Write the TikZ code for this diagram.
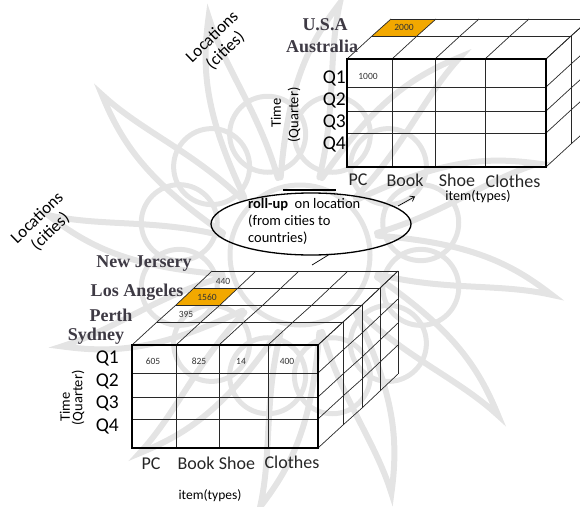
\documentclass[tikz,border=0pt]{standalone}
\usepackage{fontspec}
\setmainfont{Carlito}
\newfontfamily\cityfont{Liberation Serif}
\usetikzlibrary{shapes.geometric,arrows.meta,calc}
\definecolor{orangecell}{RGB}{242,168,0}
\definecolor{citycol}{RGB}{62,58,68}
\definecolor{gridcol}{RGB}{40,40,40}
\definecolor{wmark}{RGB}{228,228,228}
\begin{document}
\begin{tikzpicture}[x=1pt,y=-1pt,
  thinline/.style={draw=gridcol,line width=0.7pt},
  frontgrid/.style={draw=gridcol,line width=0.8pt},
  frontborder/.style={draw=black,line width=1.8pt},
  city/.style={font=\cityfont\bfseries\fontsize{18}{19}\selectfont,text=citycol,inner sep=0pt},
  qlab/.style={font=\fontsize{19.5}{20}\selectfont,anchor=east,inner sep=0pt},
  collab/.style={font=\fontsize{18}{19}\selectfont,text=black!85,inner sep=0pt},
  axislab/.style={font=\fontsize{14.5}{15}\selectfont,inner sep=0pt},
  numlab/.style={font=\fontsize{9.5}{10}\selectfont,text=black!80,inner sep=0pt},
  loclab/.style={font=\fontsize{17}{19}\selectfont,align=center,rotate=44,inner sep=0pt},
  wm/.style={draw=wmark,line width=6pt,line cap=round}]
\useasboundingbox (0,0) rectangle (580,506);
\begin{scope}
\clip (0,0) rectangle (580,506);
% ================= WATERMARK =================
\coordinate (wc) at (300,255);
\foreach \a in {0,30,...,330}{
  \draw[wm] ($(wc)+(\a-14:80)$) .. controls ($(wc)+(\a-4:170)$) and ($(wc)+(\a+2:210)$) .. ($(wc)+(\a+9:255)$)
            .. controls ($(wc)+(\a+8:200)$) and ($(wc)+(\a+14:150)$) .. ($(wc)+(\a+14:80)$);
  \draw[wm,line width=5pt] ($(wc)+(\a+15:125)$) circle[radius=38];
}
\draw[wm,line width=5pt] (wc) circle[radius=70];
% ================= TOP CUBE =================
\fill[orangecell] (372,36) -- (391,19) -- (436,19) -- (417,36) -- cycle;
\foreach \dx/\dy in {25/-23,44/-40}
  \draw[thinline] (347+\dx,59+\dy) -- (546+\dx,59+\dy);
\foreach \x in {347,392,435,485,546}
  \draw[thinline] (\x,59) -- (\x+25,36) -- (\x+44,19);
\foreach \dx/\dy in {25/-23,44/-40}
  \draw[thinline] (546+\dx,59+\dy) -- (546+\dx,167+\dy);
\foreach \y in {59,87,111,133,167}
  \draw[thinline] (546,\y) -- (571,\y-23) -- (590,\y-40);
\foreach \x in {392,435,485}
  \draw[frontgrid] (\x,59) -- (\x,167);
\foreach \y in {87,111,133}
  \draw[frontgrid] (347,\y) -- (546,\y);
\draw[frontborder] (347,59) rectangle (546,167);
% ================= BOTTOM CUBE =================
\fill[orangecell] (176,305) -- (194,288) -- (238,288) -- (220,305) -- cycle;
\foreach \dx/\dy in {25/-23,44/-40,62/-57,80/-74}
  \draw[thinline] (132+\dx,345+\dy) -- (318+\dx,345+\dy);
\foreach \x in {132,176,219,268,318}
  \draw[thinline] (\x,345) -- (\x+25,322) -- (\x+44,305) -- (\x+62,288) -- (\x+80,271);
\foreach \dx/\dy in {25/-23,44/-40,62/-57,80/-74}
  \draw[thinline] (318+\dx,345+\dy) -- (318+\dx,448+\dy);
\foreach \y in {345,373,397,419,448}
  \draw[thinline] (318,\y) -- (343,\y-23) -- (362,\y-40) -- (380,\y-57) -- (398,\y-74);
\foreach \x in {176,219,268}
  \draw[frontgrid] (\x,345) -- (\x,448);
\foreach \y in {373,397,419}
  \draw[frontgrid] (132,\y) -- (318,\y);
\draw[frontborder] (132,345) rectangle (318,448);
\end{scope}
% ---------- top cube labels ----------
\node[city] (usa) at (325,25) {U.S.A};
\node[city] (aus) at (322,46) {Australia};
\node[loclab] (loc1) at (219,44) {Locations\\(cities)};
\node[axislab,rotate=90] (time1) at (276,113) {Time};
\node[axislab,rotate=90] (quar1) at (294,115) {(Quarter)};
\node[qlab] (tq1) at (346,78) {Q1};
\node[qlab] (tq2) at (346,100) {Q2};
\node[qlab] (tq3) at (346,122) {Q3};
\node[qlab] (tq4) at (346,144) {Q4};
\node[collab] (tpc) at (358,180) {PC};
\node[collab] (tbook) at (405,180) {Book};
\node[collab] (tshoe) at (457,180) {Shoe};
\node[collab] (tclo) at (513,181) {Clothes};
\node[axislab,font=\fontsize{14}{15}\selectfont] (titem) at (478,197) {item(types)};
\node[numlab] (n1000) at (368,76) {1000};
\node[numlab] (n2000) at (404,27.5) {2000};
% ---------- bottom cube labels ----------
\node[loclab] (loc2) at (44,225) {Locations\\(cities)};
\node[city] (nj) at (144,264) {New Jersery};
\node[city] (la) at (137,292) {Los Angeles};
\node[city] (perth) at (111,315) {Perth};
\node[city] (syd) at (96,336) {Sydney};
\node[axislab,rotate=90] (time2) at (65,407) {Time};
\node[axislab,rotate=90] (quar2) at (78,398) {(Quarter)};
\node[qlab] (bq1) at (119,358) {Q1};
\node[qlab] (bq2) at (119,381) {Q2};
\node[qlab] (bq3) at (119,403) {Q3};
\node[qlab] (bq4) at (119,426) {Q4};
\node[collab] (bpc) at (151,464) {PC};
\node[collab] (bbook) at (196,463) {Book};
\node[collab] (bshoe) at (237,463) {Shoe};
\node[collab] (bclo) at (292,462) {Clothes};
\node[axislab,font=\fontsize{13.5}{14}\selectfont] (bitem) at (210,496) {item(types)};
\node[numlab] (n605) at (153,361) {605};
\node[numlab] (n825) at (199,361) {825};
\node[numlab] (n14) at (241,361) {14};
\node[numlab] (n400) at (287,361) {400};
\node[numlab] (n440) at (223,281) {440};
\node[numlab] (n1560) at (207,297) {1560};
\node[numlab] (n395) at (186,314) {395};
% ---------- roll-up ellipse and arrow ----------
\node[ellipse,draw=black,line width=1.3pt,minimum width=200pt,minimum height=62pt,inner sep=0pt] (roll) at (311,224) {};
\node[anchor=north west,align=left,inner sep=0pt,font=\fontsize{14.5}{17}\selectfont] (rolltxt) at (248,198)
  {\textbf{roll-up}\ \ on location\\(from cities to\\countries)};
\coordinate (topline1) at (283,190);
\coordinate (topline2) at (336,190);
\draw[line width=1.2pt] (topline1) -- (topline2);
\coordinate (arrA) at (312,265);
\coordinate (arrB) at (330,254);
\coordinate (arrC) at (398,206);
\coordinate (arrD) at (415,196.5);
\draw[line width=0.7pt] (arrA) -- (arrB);
\draw[line width=0.7pt,-{Straight Barb[length=4pt,width=6pt]}] (arrC) -- (arrD);
\end{tikzpicture}
\end{document}
